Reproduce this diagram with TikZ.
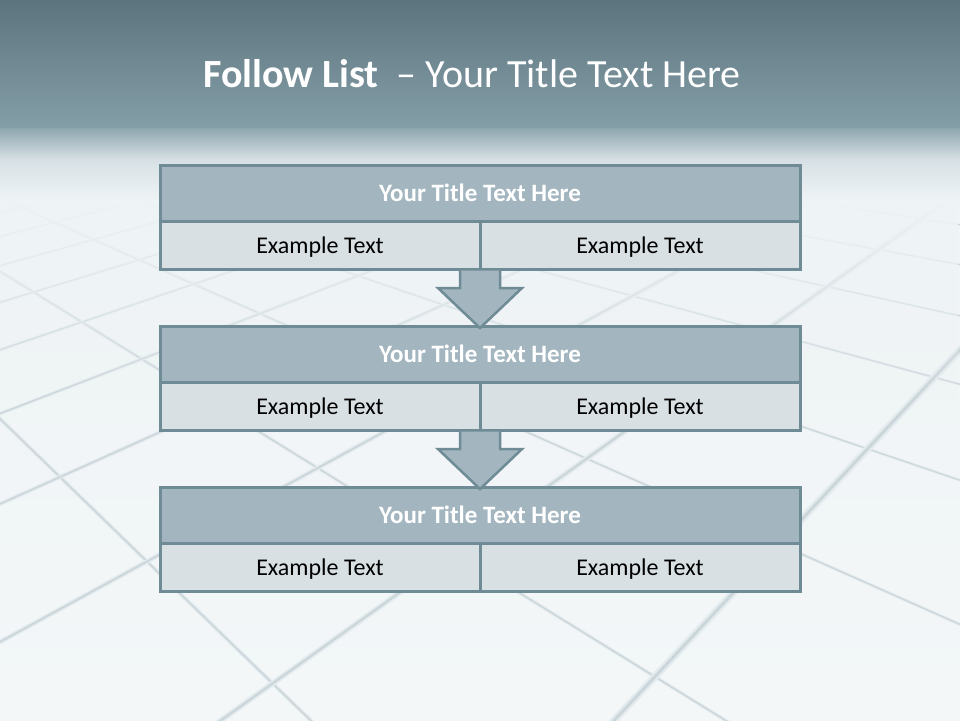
\documentclass[tikz,border=0pt]{standalone}
\usepackage{fontspec}
\setmainfont{Carlito}
\usetikzlibrary{calc,fadings}

\definecolor{bandtop}{RGB}{92,116,125}
\definecolor{bandbot}{RGB}{132,158,168}
\definecolor{floorhi}{RGB}{140,164,174}
\definecolor{floormid}{RGB}{214,224,228}
\definecolor{floorbg}{RGB}{238,243,245}
\definecolor{floorlo}{RGB}{243,247,248}
\definecolor{groove}{RGB}{203,214,219}
\definecolor{groovelt}{RGB}{228,235,238}
\definecolor{frame}{RGB}{111,139,150}
\definecolor{headfill}{RGB}{163,182,191}
\definecolor{cellfill}{RGB}{217,224,227}

\tikzfading[name=floorfade, top color=transparent!0, bottom color=transparent!100]

% tile grid
\def\tilea{-0.1537}
\def\tileb{0.1329}

\begin{document}
\begin{tikzpicture}[x=1pt, y=-1pt,
	head/.style={draw=frame, line width=3pt, fill=headfill, minimum width=640pt, minimum height=56pt, inner sep=0pt, outer sep=0pt, text=white, font=\fontsize{25}{29}\selectfont\bfseries},
	cell/.style={draw=frame, line width=3pt, fill=cellfill, minimum width=320pt, minimum height=48pt, inner sep=0pt, outer sep=0pt, text depth=0pt, font=\fontsize{24}{28}\selectfont},
	flow/.style={draw=frame, line width=2.5pt, fill=headfill, line join=miter},
	tile/.style={draw=groovelt, double=groove}]
	
	\useasboundingbox (0,0) rectangle (960,720);
	
	% Boden
	\shade[top color=floorbg, bottom color=floorlo] (0,127) rectangle (960,720);
	
	% Fliesen
	\coordinate (vpd) at (-419,12);
	\coordinate (vpu) at (1405,-127);
	\begin{scope}
		\clip (0,127) rectangle (960,720);
		\foreach \t in {0,...,12} {
			\pgfmathsetmacro{\w}{1+\tileb*\t}
			\pgfmathsetmacro{\px}{(1405*\tileb*\t+60)/\w}
			\pgfmathsetmacro{\py}{(477-127*\tileb*\t)/\w}
			\draw[tile, line width=1.2pt/\w, double distance=1.6pt/\w] (vpd) -- ($(vpd)!5!(\px,\py)$);
		}
		\foreach \s in {-12,...,3} {
			\pgfmathsetmacro{\w}{1+\tilea*\s}
			\pgfmathsetmacro{\px}{(60-419*\tilea*\s)/\w}
			\pgfmathsetmacro{\py}{(477+12*\tilea*\s)/\w}
			\draw[tile, line width=1.2pt/\w, double distance=1.6pt/\w] (vpu) -- ($(vpu)!5!(\px,\py)$);
		}
	\end{scope}
	
	% Horizont
	\fill[floorbg, path fading=floorfade] (0,199) rectangle (960,400);
	\shade[top color=floormid, bottom color=floorbg] (0,158) rectangle (960,200);
	\shade[top color=floorhi, bottom color=floormid] (0,127) rectangle (960,159);
	
	% Titelband
	\shade[top color=bandtop, bottom color=bandbot] (0,0) rectangle (960,127);
	\node[anchor=base west, inner sep=0pt, text=white, font=\fontsize{40}{46}\selectfont] (title) at (203,87) {\textbf{Follow List}\ \ – Your Title Text Here};
	
	% Bloecke
	\foreach \i/\y in {1/193, 2/354, 3/515} {
		\node[head] (t\i) at (480,\y) {Your Title Text Here};
		\node[cell, anchor=north west] (c\i1) at (t\i.south west) {Example Text};
		\node[cell, anchor=north east] (c\i2) at (t\i.south east) {Example Text};
	}
	
	% Pfeile
	\foreach \i/\j in {1/2, 2/3} {
		\draw[flow] ($(c\i1.south east)+(-20,1.5)$) |- ($(t\j.north)+(-42,-38)$) -- ($(t\j.north)+(0,2)$) -- ($(t\j.north)+(42,-38)$) -| ($(c\i1.south east)+(20,1.5)$);
	}
	
\end{tikzpicture}
\end{document}
